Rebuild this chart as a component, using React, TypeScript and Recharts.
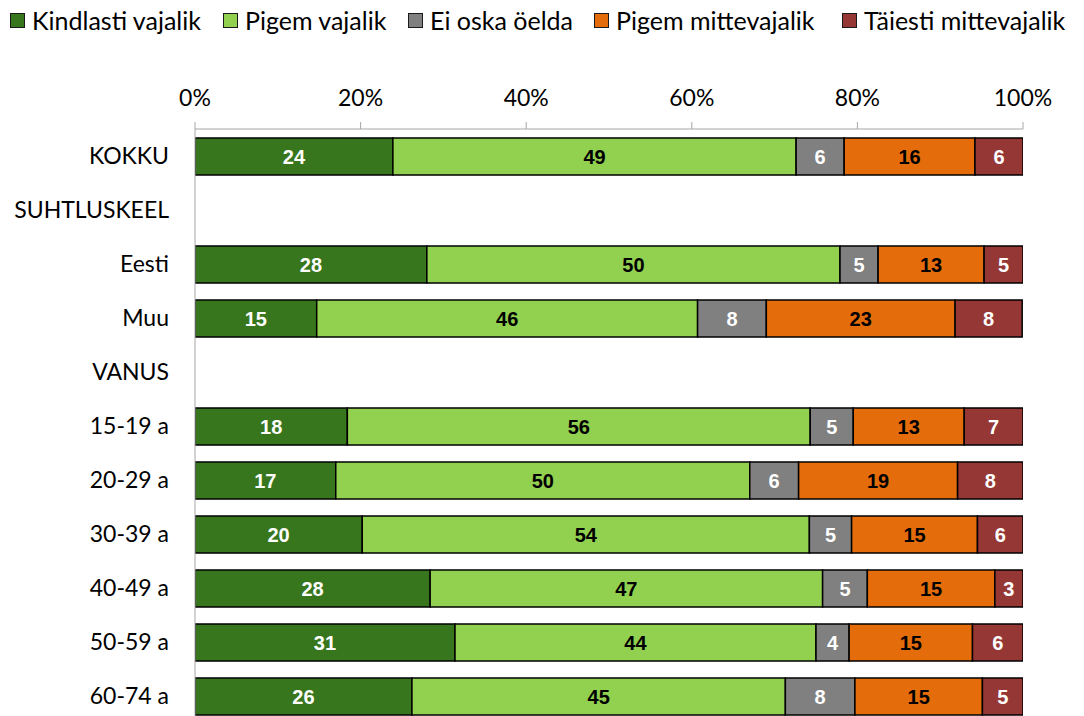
import { BarChart, Bar, XAxis, YAxis, LabelList } from 'recharts';

const categories = ['KOKKU', 'SUHTLUSKEEL', 'Eesti', 'Muu', 'VANUS', '15-19 a', '20-29 a', '30-39 a', '40-49 a', '50-59 a', '60-74 a'];

const kindlastiVajalik = [23.9, null, 28.0, 14.7, null, 18.4, 17.0, 20.2, 28.4, 31.4, 26.2];
const pigemVajalik = [48.7, null, 49.9, 46.0, null, 55.9, 50.0, 54.0, 47.4, 43.6, 45.1];
const eiOskaOelda = [5.8, null, 4.6, 8.3, null, 5.2, 5.9, 5.1, 5.4, 4.0, 8.4];
const pigemMittevajalik = [15.8, null, 12.8, 22.8, null, 13.4, 19.2, 15.2, 15.4, 14.9, 15.4];
const taiestiMittevajalik = [5.8, null, 4.7, 8.1, null, 7.1, 7.9, 5.6, 3.4, 6.2, 4.9];

const xTicks = [0, 20, 40, 60, 80, 100];

const SERIES = [
  { key: 'k1', name: 'Kindlasti vajalik', values: kindlastiVajalik, color: '#38761d', label: '#ffffff' },
  { key: 'k2', name: 'Pigem vajalik', values: pigemVajalik, color: '#92d050', label: '#000000' },
  { key: 'k3', name: 'Ei oska öelda', values: eiOskaOelda, color: '#808080', label: '#ffffff' },
  { key: 'k4', name: 'Pigem mittevajalik', values: pigemMittevajalik, color: '#e46c0a', label: '#000000' },
  { key: 'k5', name: 'Täiesti mittevajalik', values: taiestiMittevajalik, color: '#953735', label: '#ffffff' },
];

// legend item widths (square to next square), matched to the original layout
const LEGEND_WIDTHS = [213, 185, 186, 248, 240];

const FONT = 'Lato, "Open Sans", sans-serif';

const data = categories.map((c, i) => {
  const row: Record<string, string | number | null> = { name: c };
  SERIES.forEach((s) => {
    row[s.key] = s.values[i];
  });
  return row;
});

export default function App() {
  return (
    <div style={{ position: 'absolute', left: 0, top: 0, width: 1084, height: 716, overflow: 'hidden', background: '#fff' }}>
      {/* legend drawn as html above the plot */}
      <div style={{ position: 'absolute', left: 10, top: 5, display: 'flex', fontFamily: FONT, fontSize: 25, lineHeight: '30px', color: '#000', whiteSpace: 'nowrap' }}>
        {SERIES.map((s, i) => (
          <span key={s.key} style={{ display: 'inline-flex', alignItems: 'center', width: LEGEND_WIDTHS[i] }}>
            <span style={{ width: 13, height: 13, background: s.color, border: '1.5px solid #1a1a1a', display: 'inline-block', marginRight: 7 }} />
            {s.name}
          </span>
        ))}
      </div>
      <BarChart
        width={1084}
        height={729}
        data={data}
        layout="vertical"
        margin={{ top: 99, right: 61, bottom: 6, left: 0 }}
        style={{ position: 'absolute', left: 0, top: 0 }}
      >
        <XAxis
          type="number"
          orientation="top"
          domain={[0, 100]}
          allowDataOverflow
          ticks={xTicks}
          tickFormatter={(v: number) => `${v}%`}
          height={30}
          stroke="#a6a6a6"
          tickSize={7}
          tickMargin={16}
          tick={{ fill: '#000', fontSize: 23, fontFamily: FONT }}
        />
        <YAxis
          type="category"
          dataKey="name"
          width={195}
          stroke="#a6a6a6"
          tickLine={false}
          tickSize={0}
          tickMargin={26}
          interval={0}
          tick={{ fill: '#000', fontSize: 23, fontFamily: FONT }}
        />
        {SERIES.map((s) => (
          <Bar
            key={s.key}
            dataKey={s.key}
            name={s.name}
            stackId="a"
            fill={s.color}
            stroke="#000"
            strokeWidth={1.5}
            barSize={37}
            isAnimationActive={false}
          >
            <LabelList
              dataKey={s.key}
              position="center"
              formatter={(v: any) => (v == null ? '' : Math.round(Number(v)))}
              fill={s.label}
              style={{ fontFamily: '"Liberation Sans", Arial, sans-serif', fontWeight: 'bold', fontSize: 20 }}
            />
          </Bar>
        ))}
      </BarChart>
    </div>
  );
}
